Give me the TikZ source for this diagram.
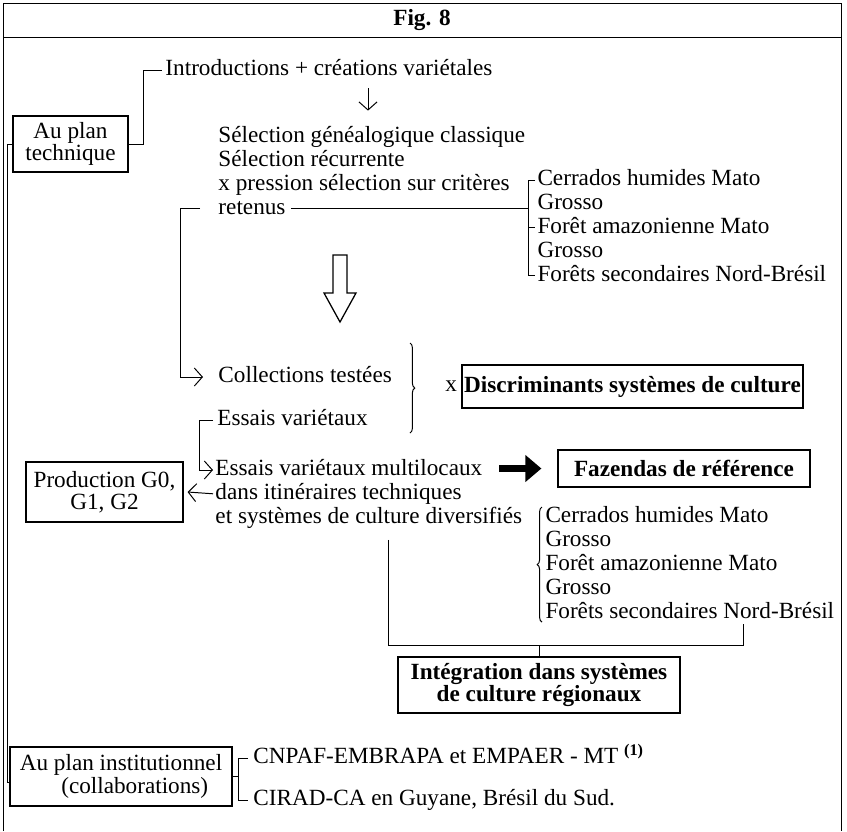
\documentclass[tikz,border=0pt]{standalone}
\usepackage{fontspec}
\setmainfont{Liberation Serif}
\usepackage{tikz}
\usetikzlibrary{calc,arrows.meta}
\usetikzlibrary{positioning}
\usetikzlibrary{decorations.pathreplacing}
\newcommand{\figfont}{\fontsize{16.5}{16}\selectfont}
\tikzset{txt/.style={inner sep=0pt, anchor=west, text height=12pt, text depth=3.5pt}}

\begin{document}
\begin{tikzpicture}[
    x=0.025cm, y=-0.025cm,
    font=\figfont,
    line width=0.7pt,
    >={Straight Barb[length=2mm,width=4.5mm]}
  ]

  % Styles for boxes, braces and the two big arrows
  \tikzset{
    box/.style={draw, line width=0.8pt, align=center, inner sep=0pt},
    bbox/.style={box, font=\figfont\bfseries},
    curly/.style={decorate, decoration={brace, amplitude=1.2mm}},
    hollow/.style={draw, line width=0.9pt, fill=white},
    heavy/.style={line width=1.6mm, -{Triangle[length=4mm,width=6.5mm]}}
  }

  \useasboundingbox (0,0) rectangle (847,831);

  % Frame and title bar
  \draw (3,831) -- (3,3) -- (841,3) -- (841,831);
  \draw (3,37) -- (841,37);
  \node (title) [font=\figfont\bfseries] at (422,20) {Fig. 8};

  % Au plan technique
  \node (tech) [box, minimum width=28.75mm, minimum height=14mm] at (70.5,144) {Au plan\\technique};
  \node (intro) [txt] at (165,70) {Introductions + créations variétales};
  \draw (tech.east) -- ++(15,0) |- ($(intro.west)+(-3,0)$);

  \coordinate (dn) at (368,0);
  \node (sel1) [txt] at (218,137) {Sélection généalogique classique};
  \node (sel2) [txt, below=0.25mm of sel1.south west, anchor=north west] {Sélection récurrente};
  \node (sel3) [txt, below=0.25mm of sel2.south west, anchor=north west] {x pression sélection sur critères};
  \node (retenus) [txt, below=0.25mm of sel3.south west, anchor=north west] {retenus};
  \draw[->, shorten <=1.75mm, shorten >=3.75mm] (intro.south -| dn) -- (sel1.north -| dn);

  % Regions, first list
  \node (reg1a) [txt] at (537,180) {Cerrados humides Mato};
  \node (reg1b) [txt, below=0.25mm of reg1a.south west, anchor=north west] {Grosso};
  \node (reg1c) [txt, below=0.25mm of reg1b.south west, anchor=north west] {Forêt amazonienne Mato};
  \node (reg1d) [txt, below=0.25mm of reg1c.south west, anchor=north west] {Grosso};
  \node (reg1e) [txt, below=0.25mm of reg1d.south west, anchor=north west] {Forêts secondaires Nord-Brésil};
  \coordinate (brk1) at ($(reg1a.west)+(-9,0)$);
  \draw ($(reg1a.west)+(-2,0)$) -- (brk1) |- ($(reg1e.west)+(-2,0)$);
  \draw (brk1 |- reg1c.west) -- ($(reg1c.west)+(-2,0)$);
  \draw ($(retenus.east)+(5,0)$) -- (retenus.east -| brk1);

  \draw[hollow] (333,255) -- (347,255) -- (347,293) -- (356,293) -- (340,322) -- (324,293) -- (333,293) -- cycle;

  % Tested collections and variety trials
  \node (coll) [txt] at (218,377) {Collections testées};
  \draw[->] ($(retenus.west)+(-18,0)$) -- ++(-20,0) |- ($(coll.west)+(-15,0)$);

  \node (disc) [bbox, minimum width=85.25mm, minimum height=10.75mm] at (632.5,386.5) {Discriminants systèmes de culture};
  \node (cross) [left=1mm of disc, inner sep=0pt] {x};
  \draw[curly] (410,343) -- (410,433);

  \node (ess1) [txt] at (217,420) {Essais variétaux};
  \node (ess2) [txt] at (215,470) {Essais variétaux multilocaux};
  \node (ess3) [txt, below=0.25mm of ess2.south west, anchor=north west] {dans itinéraires techniques};
  \node (ess4) [txt, below=0.25mm of ess3.south west, anchor=north west] {et systèmes de culture diversifiés};
  \draw[->] ($(ess1.west)+(-4,0)$) -- ++(-14,0) |- ($(ess2.west)+(-2,0)$);

  \node (prod) [box, minimum width=39.25mm, minimum height=15mm] at (104.5,492) {Production G0,\\G1, G2};
  \draw[->] ($(ess3.west)+(-2,0)$) -- ($(prod.east)+(4,0)$);

  \node (faz) [bbox, minimum width=63mm, minimum height=9.25mm] at (684,468.5) {Fazendas de référence};
  \draw[heavy] ($(faz.west)+(-58,0)$) -- ($(faz.west)+(-16,0)$);

  % Regions, second list
  \node (reg2a) [txt] at (545,517) {Cerrados humides Mato};
  \node (reg2b) [txt, below=0.25mm of reg2a.south west, anchor=north west] {Grosso};
  \node (reg2c) [txt, below=0.25mm of reg2b.south west, anchor=north west] {Forêt amazonienne Mato};
  \node (reg2d) [txt, below=0.25mm of reg2c.south west, anchor=north west] {Grosso};
  \node (reg2e) [txt, below=0.25mm of reg2d.south west, anchor=north west] {Forêts secondaires Nord-Brésil};
  \draw[curly] ($(reg2e.west)+(-3,10)$) -- ($(reg2a.west)+(-3,-10)$);

  % Regional integration
  \node (integ) [bbox, minimum width=70.5mm, minimum height=14mm] at (539,685) {Intégration dans systèmes\\de culture régionaux};
  \coordinate (jl) at (388,645);
  \coordinate (jr) at (743,645);
  \draw ($(ess4.south -| jl)+(0,11)$) -- (jl) -- (jr) -- (reg2e.south -| jr);
  \draw (integ.north) -- (integ.north |- jl);

  % Au plan institutionnel
  \node (inst) [box, minimum width=55.5mm, minimum height=14.75mm, align=right] at (121,776.5) {Au plan institutionnel\\(collaborations)\hspace*{3.5mm}};
  \node (cnpaf) [txt] at (253,758) {CNPAF-EMBRAPA et EMPAER - MT \textsuperscript{\textbf{(1)}}};
  \node (cirad) [txt] at (253,800) {CIRAD-CA en Guyane, Brésil du Sud.};
  \draw (inst.east) -- ++(6,0);
  \draw ($(cnpaf.west)+(-5,0)$) -- ++(-10,0) |- ($(cirad.west)+(-5,0)$);
  \draw (tech.west) -- ++(-5,0) |- ($(inst.west)+(0,6)$);

\end{tikzpicture}
\end{document}
